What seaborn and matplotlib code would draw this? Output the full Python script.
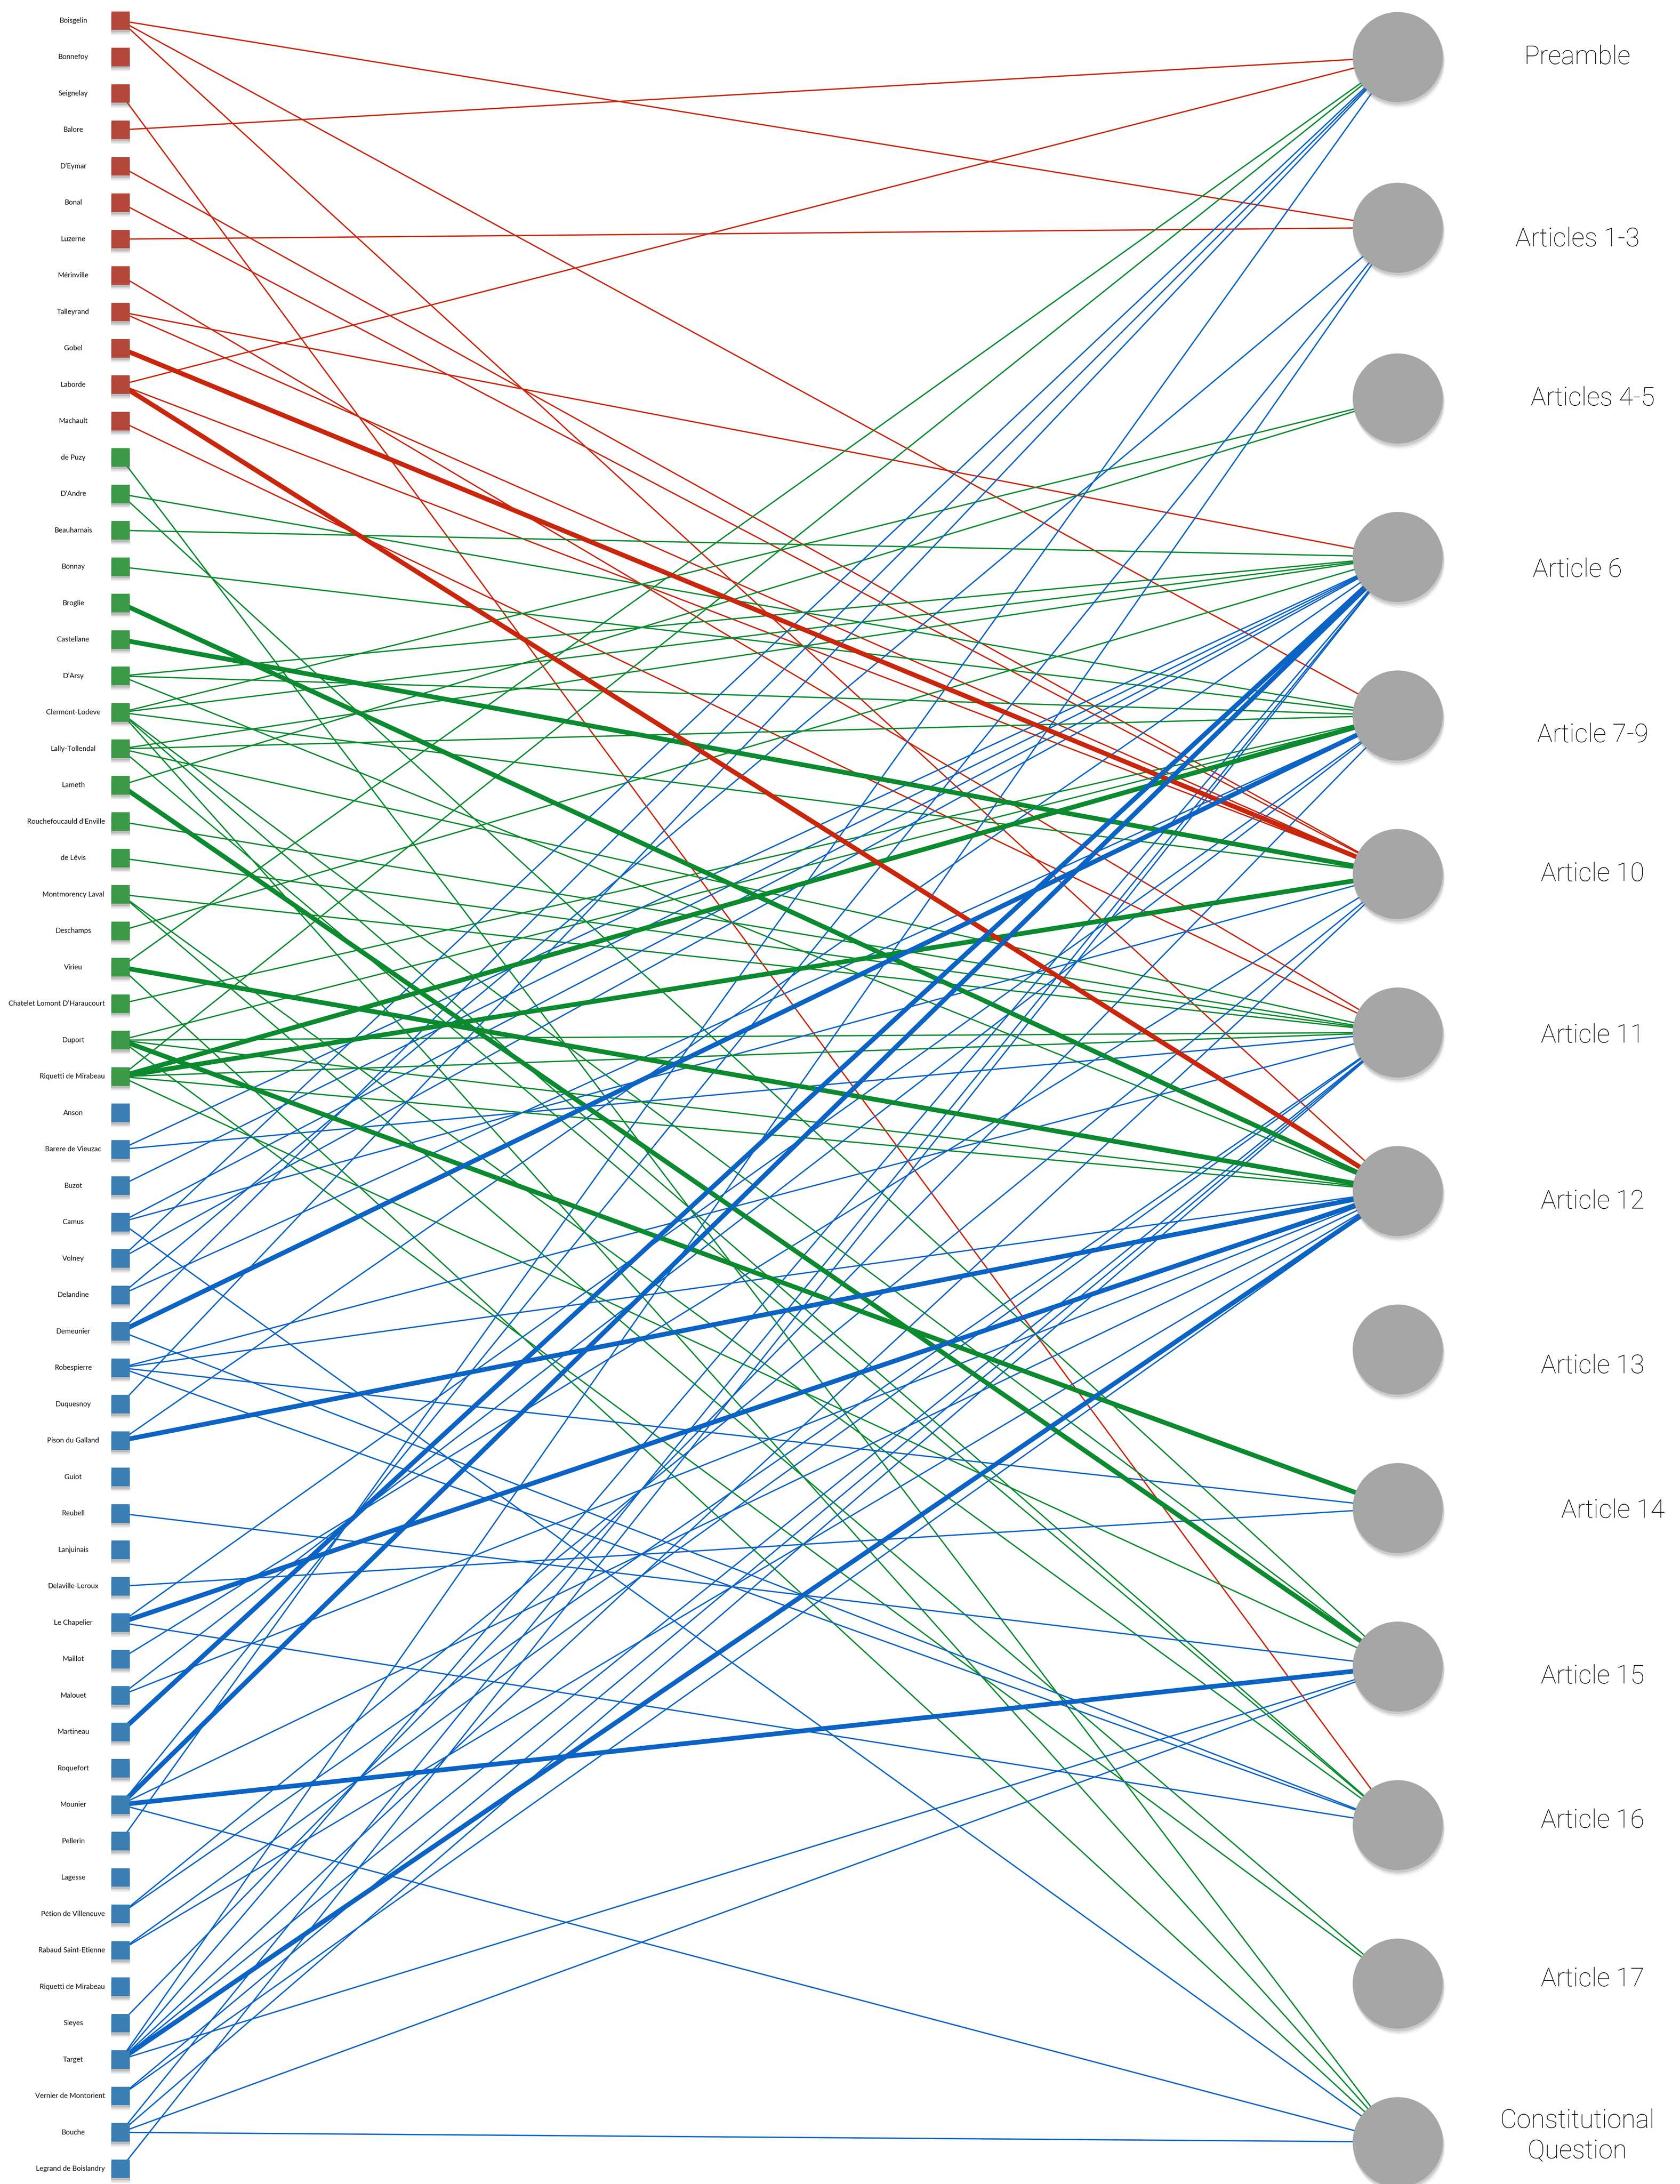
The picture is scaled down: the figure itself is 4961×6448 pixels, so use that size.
import numpy as np
import pandas as pd
import matplotlib
matplotlib.use("Agg")
import matplotlib.pyplot as plt
import seaborn as sns

# delegates (left column, top to bottom) grouped by faction
red_delegates = ["Boisgelin", "Bonnefoy", "Seignelay", "Balore", "D\u2019Eymar", "Bonal", "Luzerne",
                 "Mérinville", "Talleyrand", "Gobel", "Laborde", "Machault"]
green_delegates = ["de Puzy", "D\u2019Andre", "Beauharnais", "Bonnay", "Broglie", "Castellane", "D\u2019Arsy",
                   "Clermont-Lodeve", "Lally-Tollendal", "Lameth", "Rouchefoucauld d\u2019Enville", "de Lévis",
                   "Montmorency Laval", "Deschamps", "Virieu", "Chatelet Lomont D\u2019Haraucourt", "Duport",
                   "Riquetti de Mirabeau"]
blue_delegates = ["Anson", "Barere de Vieuzac", "Buzot", "Camus", "Volney", "Delandine", "Demeunier",
                  "Robespierre", "Duquesnoy", "Pison du Galland", "Guiot", "Reubell", "Lanjuinais",
                  "Delaville-Leroux", "Le Chapelier", "Maillot", "Malouet", "Martineau", "Roquefort", "Mounier",
                  "Pellerin", "Lagesse", "Pétion de Villeneuve", "Rabaud Saint-Etienne", "Riquetti de Mirabeau",
                  "Sieyes", "Target", "Vernier de Montorient", "Bouche", "Legrand de Boislandry"]

# articles (right column)
articles = ["Preamble", "Articles 1-3", "Articles 4-5", "Article 6", "Article 7-9", "Article 10",
            "Article 11", "Article 12", "Article 13", "Article 14", "Article 15", "Article 16",
            "Article 17", "Constitutional Question"]

# links: (delegate, article, weight)
red_edges = [
    ("Boisgelin", "Articles 1-3", 1), ("Boisgelin", "Article 7-9", 1), ("Boisgelin", "Article 12", 1),
    ("Seignelay", "Article 16", 1),
    ("Balore", "Preamble", 1),
    ("D\u2019Eymar", "Article 10", 1),
    ("Bonal", "Article 10", 1),
    ("Luzerne", "Articles 1-3", 1),
    ("Mérinville", "Article 11", 1),
    ("Talleyrand", "Article 6", 1), ("Talleyrand", "Article 10", 1),
    ("Gobel", "Article 10", 3),
    ("Laborde", "Preamble", 1), ("Laborde", "Article 10", 1), ("Laborde", "Article 12", 3),
    ("Machault", "Article 11", 1),
]
green_edges = [
    ("de Puzy", "Constitutional Question", 1),
    ("D\u2019Andre", "Article 7-9", 1), ("D\u2019Andre", "Article 15", 1),
    ("Beauharnais", "Article 6", 1),
    ("Bonnay", "Article 7-9", 1),
    ("Broglie", "Article 12", 3),
    ("Castellane", "Article 10", 3),
    ("D\u2019Arsy", "Article 6", 1), ("D\u2019Arsy", "Article 7-9", 1), ("D\u2019Arsy", "Article 12", 1),
    ("Clermont-Lodeve", "Articles 4-5", 1), ("Clermont-Lodeve", "Article 6", 1),
    ("Clermont-Lodeve", "Article 10", 1), ("Clermont-Lodeve", "Article 15", 1),
    ("Clermont-Lodeve", "Article 16", 1), ("Clermont-Lodeve", "Constitutional Question", 1),
    ("Lally-Tollendal", "Article 6", 1), ("Lally-Tollendal", "Article 7-9", 1),
    ("Lally-Tollendal", "Article 11", 1), ("Lally-Tollendal", "Article 16", 1),
    ("Lameth", "Articles 4-5", 1), ("Lameth", "Article 15", 3),
    ("Rouchefoucauld d\u2019Enville", "Article 11", 1),
    ("de Lévis", "Article 11", 1),
    ("Montmorency Laval", "Article 11", 1), ("Montmorency Laval", "Article 16", 1),
    ("Montmorency Laval", "Article 17", 1),
    ("Deschamps", "Article 6", 1),
    ("Virieu", "Preamble", 1), ("Virieu", "Article 12", 3), ("Virieu", "Constitutional Question", 1),
    ("Chatelet Lomont D\u2019Haraucourt", "Article 7-9", 1),
    ("Duport", "Article 7-9", 1), ("Duport", "Article 11", 1), ("Duport", "Article 12", 1),
    ("Duport", "Article 14", 3), ("Duport", "Article 17", 1),
    ("Riquetti de Mirabeau", "Preamble", 1), ("Riquetti de Mirabeau", "Article 7-9", 3),
    ("Riquetti de Mirabeau", "Article 10", 3), ("Riquetti de Mirabeau", "Article 11", 1),
    ("Riquetti de Mirabeau", "Article 12", 1), ("Riquetti de Mirabeau", "Article 15", 1),
]
blue_edges = [
    ("Barere de Vieuzac", "Article 6", 1), ("Barere de Vieuzac", "Article 11", 1),
    ("Buzot", "Article 6", 1),
    ("Camus", "Article 6", 1), ("Camus", "Article 10", 1), ("Camus", "Constitutional Question", 1),
    ("Volney", "Preamble", 1), ("Volney", "Article 6", 1),
    ("Delandine", "Articles 1-3", 1), ("Delandine", "Article 7-9", 1),
    ("Demeunier", "Preamble", 1), ("Demeunier", "Article 7-9", 3), ("Demeunier", "Article 16", 1),
    ("Robespierre", "Article 11", 1), ("Robespierre", "Article 12", 1),
    ("Robespierre", "Article 14", 1), ("Robespierre", "Article 16", 1),
    ("Duquesnoy", "Preamble", 1),
    ("Pison du Galland", "Article 6", 1), ("Pison du Galland", "Article 12", 3),
    ("Reubell", "Article 15", 1),
    ("Delaville-Leroux", "Article 14", 1),
    ("Le Chapelier", "Article 7-9", 1), ("Le Chapelier", "Article 12", 3), ("Le Chapelier", "Article 16", 1),
    ("Maillot", "Article 10", 1),
    ("Malouet", "Article 7-9", 1), ("Malouet", "Article 12", 1),
    ("Martineau", "Article 6", 3),
    ("Mounier", "Articles 1-3", 1), ("Mounier", "Article 6", 3), ("Mounier", "Article 12", 1),
    ("Mounier", "Article 15", 3), ("Mounier", "Constitutional Question", 1),
    ("Pellerin", "Preamble", 1),
    ("Pétion de Villeneuve", "Article 10", 1), ("Pétion de Villeneuve", "Article 11", 1),
    ("Rabaud Saint-Etienne", "Article 11", 1), ("Rabaud Saint-Etienne", "Article 12", 1),
    ("Sieyes", "Article 7-9", 1),
    ("Target", "Articles 1-3", 1), ("Target", "Article 6", 1), ("Target", "Article 10", 1),
    ("Target", "Article 11", 1), ("Target", "Article 12", 3), ("Target", "Article 15", 1),
    ("Vernier de Montorient", "Article 11", 1), ("Vernier de Montorient", "Article 12", 1),
    ("Bouche", "Article 6", 1), ("Bouche", "Article 11", 1), ("Bouche", "Article 15", 1),
    ("Bouche", "Constitutional Question", 1),
    ("Legrand de Boislandry", "Article 6", 1),
]

# ---- layout (pixels, figure is 4961 x 6448) ----
W, H = 4961, 6448
LEFT_X, RIGHT_X, LABEL_X, LABEL_RIGHT = 356, 4127, 216, 310
factions = [("red", red_delegates, red_edges), ("green", green_delegates, green_edges),
            ("blue", blue_delegates, blue_edges)]
n_left = sum(len(f[1]) for f in factions)
left_y = np.linspace(61, 6403, n_left)
gaps = [504, 504] + [468] * (len(articles) - 3)
right_y = 168 + np.cumsum([0] + gaps)
label_dx = [-45, -45, 0, -45, 0, 0, 0, 0, 0, 60, 0, 0, 0, -45]
label_dy = [0, 34, 0, 38, 58, 0, 9, 31, 49, 8, 29, -13, -13, -18]

square_col = {"red": "#B4473A", "green": "#3B9A46", "blue": "#3A7EB6"}
line_col = {"red": "#C9260C", "green": "#0B8A2F", "blue": "#0B63C5"}

rows, links = [], []
k = 0
for fac, names, edges in factions:
    pos = {}
    for name in names:
        rows.append({"name": name, "faction": fac, "x": LEFT_X, "y": left_y[k]})
        pos[name] = left_y[k]
        k += 1
    for name, art, w in edges:
        links.append({"faction": fac, "y0": pos[name], "y1": right_y[articles.index(art)], "w": w})
nodes = pd.DataFrame(rows)
links = pd.DataFrame(links).sort_values("w")
arts = pd.DataFrame({"article": articles, "x": RIGHT_X, "y": right_y})

sns.set_style("white")
plt.rcParams["font.family"] = ["Lato", "DejaVu Sans"]

fig = plt.figure(figsize=(W / 100, H / 100), dpi=100)
ax = fig.add_axes([0, 0, 1, 1])
ax.set_xlim(0, W)
ax.set_ylim(H, 0)
ax.axis("off")

# links
for _, e in links.iterrows():
    ax.plot([LEFT_X, RIGHT_X], [e["y0"], e["y1"]], color=line_col[e["faction"]],
            lw=2.8 if e["w"] == 1 else 10, solid_capstyle="butt", zorder=1)

# delegate squares with a soft shadow
for off, a in [(14, 0.10), (10, 0.15), (6, 0.2)]:
    ax.scatter(nodes["x"], nodes["y"] + off, marker="s", s=1650, color="#555555", alpha=a,
               linewidths=0, zorder=2)
sns.scatterplot(data=nodes, x="x", y="y", hue="faction", palette=square_col, marker="s", s=1560,
                linewidth=0, legend=False, ax=ax, zorder=3)

# article circles with shadow
for off, a in [(16, 0.08), (11, 0.12), (6, 0.18)]:
    ax.scatter(arts["x"] + off * 0.3, arts["y"] + off, s=37500, color="#666666", alpha=a,
               linewidths=0, zorder=2)
sns.scatterplot(data=arts, x="x", y="y", color="#A5A7A6", s=36700, linewidth=0, legend=False,
                ax=ax, zorder=3)

ax.set_xlabel("")
ax.set_ylabel("")

# delegate names, centred but kept clear of the squares
renderer = fig.canvas.get_renderer()
for _, r in nodes.iterrows():
    t = ax.text(LABEL_X, r["y"], r["name"], ha="center", va="center", fontsize=15, color="#111111")
    half = t.get_window_extent(renderer).width / 2
    if LABEL_X + half > LABEL_RIGHT:
        t.set_x(LABEL_RIGHT - half)

for i, art in enumerate(articles):
    ax.text(4703 + label_dx[i], right_y[i] + label_dy[i], art.replace("Constitutional ", "Constitutional\n"),
            ha="center", va="center", fontsize=55, color="#000000", family=["Roboto", "DejaVu Sans"],
            fontweight="light", linespacing=1.3)

fig.savefig("out.png", dpi=100)
